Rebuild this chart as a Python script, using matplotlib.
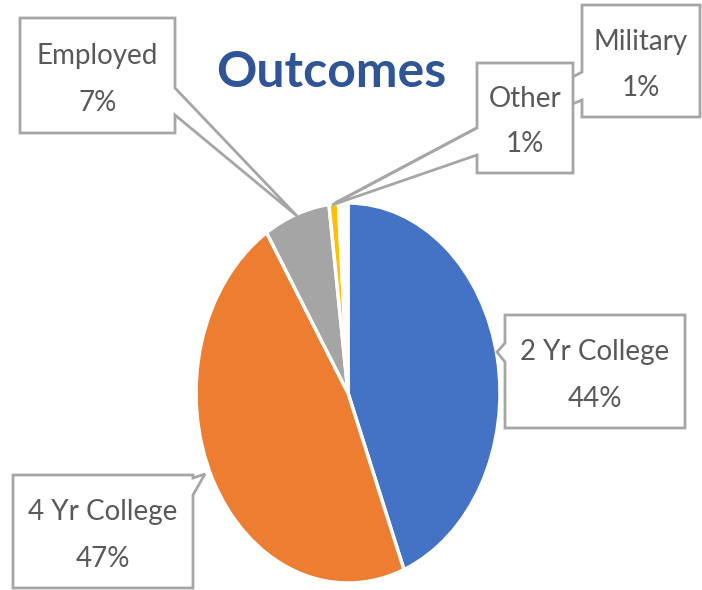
import matplotlib.pyplot as plt
from matplotlib.patches import Polygon

# datos del grafico
categorias = ['2 Yr College', '4 Yr College', 'Employed', 'Other', 'Military']
porcentajes = [44, 47, 7, 1, 1]
colores = ['#4472C4', '#ED7D31', '#A5A5A5', '#FFC000', '#FFFFFF']

W, H = 702, 590
fig = plt.figure(figsize=(W / 100, H / 100), dpi=100)

# pie eliptico: centro (348, 393), radios 152 x 190 pixeles
cx, cy, rx, ry = 348, 393, 152, 190
ax = fig.add_axes([(cx - rx) / W, (H - cy - ry) / H, 2 * rx / W, 2 * ry / H])
ax.pie(porcentajes, colors=colores, startangle=90, counterclock=False,
       wedgeprops=dict(edgecolor='white', linewidth=2.5))
ax.set_aspect('auto')
ax.set_xlim(-1, 1)
ax.set_ylim(-1, 1)
ax.axis('off')

# capa para titulo y etiquetas, en pixeles (y hacia abajo)
lay = fig.add_axes([0, 0, 1, 1], zorder=5)
lay.set_xlim(0, W)
lay.set_ylim(H, 0)
lay.axis('off')

lay.text(331, 87, 'Outcomes', fontsize=36, fontweight='bold', family='Lato',
         color='#2F5597', ha='center', va='baseline')

gris = '#A6A6A6'
texto = '#595959'


def callout(caja, base, punta, lado):
    x0, y0, x1, y1 = caja
    b0, b1 = base
    if lado == 'right':
        pts = [(x0, y0), (x1, y0), (x1, b0), punta, (x1, b1), (x1, y1), (x0, y1)]
    else:
        pts = [(x0, y0), (x1, y0), (x1, y1), (x0, y1), (x0, b1), punta, (x0, b0)]
    return pts


# (caja, base del puntero, punta, lado)
cajas = {
    'Military': ((582, 5, 700, 117), (72, 100), (335, 203), 'left'),
    'Other': ((477, 63, 573, 173), (128, 155), (332, 205), 'left'),
    'Employed': ((20, 18, 175, 133), (88, 115), (297, 216), 'right'),
    '2 Yr College': ((505, 315, 685, 428), (343, 362), (497, 352), 'left'),
    '4 Yr College': ((13, 475, 193, 588), (478, 495), (205, 474), 'right'),
}

for i, nombre in enumerate(['Military', 'Other', 'Employed', '2 Yr College', '4 Yr College']):
    caja, base, punta, lado = cajas[nombre]
    pts = callout(caja, base, punta, lado)
    lay.add_patch(Polygon(pts, closed=True, facecolor='white', edgecolor=gris,
                          linewidth=2, zorder=2 + i, joinstyle='miter'))
    x0, y0, x1, y1 = caja
    xc = (x0 + x1) / 2
    pct = porcentajes[categorias.index(nombre)]
    lay.text(xc, y0 + (y1 - y0) * 0.33, nombre, fontsize=20, family='Lato',
             color=texto, ha='center', va='center', zorder=2 + i)
    lay.text(xc, y0 + (y1 - y0) * 0.74, f'{pct}%', fontsize=20, family='Lato',
             color=texto, ha='center', va='center', zorder=2 + i)

fig.savefig('out.png', dpi=100, facecolor='white')
